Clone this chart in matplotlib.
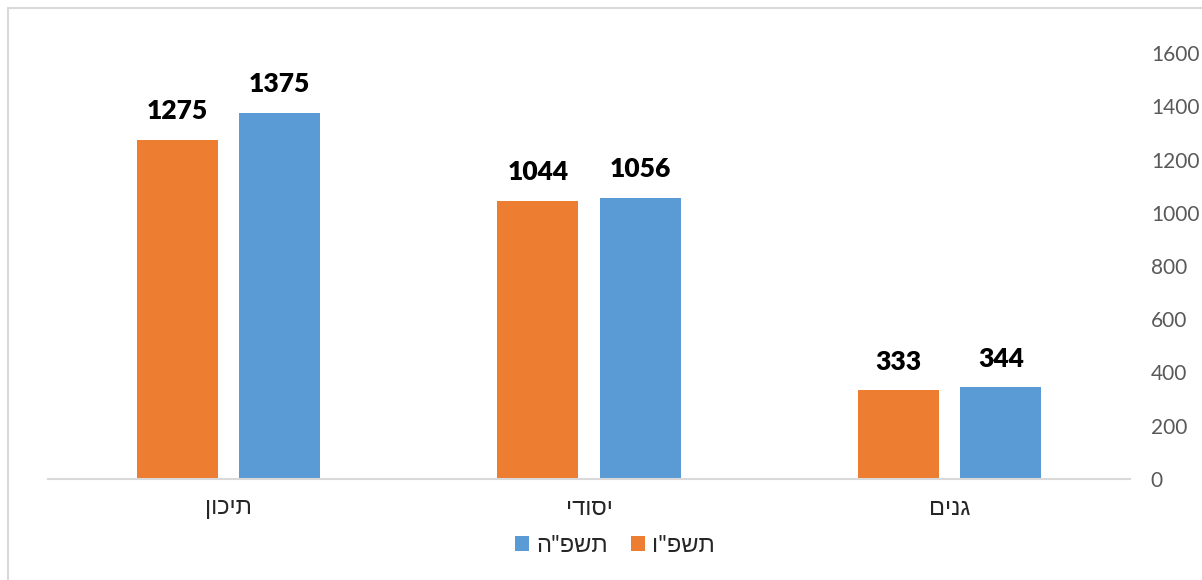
import matplotlib.pyplot as plt
import numpy as np
from matplotlib.patches import Rectangle

# data, left to right as shown
categories = ['תיכון', 'יסודי', 'גנים']
series_names = ['תשפ"ו', 'תשפ"ה']
values_new = [1275, 1044, 333]   # תשפ"ו
values_old = [1375, 1056, 344]   # תשפ"ה
y_ticks = [0, 200, 400, 600, 800, 1000, 1200, 1400, 1600]

orange = '#ED7D31'
blue = '#5B9BD5'
fam = ['Lato', 'Liberation Sans', 'DejaVu Sans']


def rtl(s):
    # matplotlib has no bidi support, so flip Hebrew by hand
    return s[::-1]


plt.rcParams['font.family'] = fam

fig = plt.figure(figsize=(12.02, 5.8), dpi=100)
ax = fig.add_axes([48 / 1202, 101 / 580, (1130 - 48) / 1202, (479 - 53) / 580])

# light frame around the chart area (top and left visible)
fig.patches.append(Rectangle((8 / 1202, -0.1), 1.2, (580 - 8) / 580 + 0.1,
                             transform=fig.transFigure, fill=False,
                             edgecolor='#D9D9D9', linewidth=1.5))

x = np.arange(len(categories))
w = 0.224
off = 0.142
b1 = ax.bar(x - off, values_new, w, color=orange, label=rtl(series_names[0]))
b2 = ax.bar(x + off, values_old, w, color=blue, label=rtl(series_names[1]))

for bars, vals in [(b1, values_new), (b2, values_old)]:
    for rect, v in zip(bars, vals):
        ax.annotate(str(v), (rect.get_x() + rect.get_width() / 2, rect.get_height()),
                    xytext=(0, 12), textcoords='offset points', ha='center', va='bottom',
                    fontsize=19, fontweight='heavy', color='black')

ax.set_xlim(-0.5, len(categories) - 0.5)
ax.set_ylim(0, 1600)
ax.set_yticks(y_ticks)
ax.yaxis.tick_right()
ax.tick_params(axis='y', length=0, pad=15, labelsize=15, labelcolor='#595959')
ax.set_xticks(x)
ax.set_xticklabels([rtl(c) for c in categories])
ax.tick_params(axis='x', length=0, pad=14, labelsize=17, labelcolor='#262626')

for s in ['top', 'left', 'right']:
    ax.spines[s].set_visible(False)
ax.spines['bottom'].set_color('#D9D9D9')
ax.spines['bottom'].set_linewidth(1.5)

fig.legend(handles=[b2, b1], labels=[rtl(series_names[1]), rtl(series_names[0])],
           loc='center', bbox_to_anchor=(615 / 1202, 1 - 545 / 580), ncol=2,
           frameon=False, fontsize=17, handlelength=0.6, handleheight=0.6,
           handletextpad=0.3, columnspacing=1.0, labelcolor='#262626')

fig.savefig('out.png', dpi=100)
